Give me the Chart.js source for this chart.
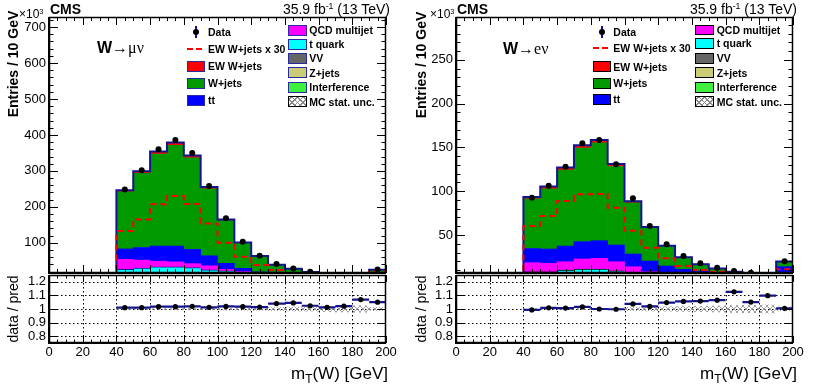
<!DOCTYPE html>
<html>
<head>
<meta charset="utf-8">
<title>CMS mT(W)</title>
<script src="https://cdn.jsdelivr.net/npm/chart.js@4.4.1/dist/chart.umd.min.js"></script>
<style>
  html, body { margin: 0; padding: 0; background: #fff; }
  body { position: relative; width: 814px; height: 391px; overflow: hidden;
         font-family: "Liberation Sans", Arial, Helvetica, sans-serif; color: #000; }
  canvas { position: absolute; }
  .t { position: absolute; white-space: nowrap; line-height: 1; }
  .cms { font-weight: bold; font-size: 14px; }
  .lumi { font-size: 14px; }
  .mult { font-size: 12px; }
  .chan { font-size: 16px; }
  .chan span { font-family: "Liberation Serif", "DejaVu Serif", serif; }
  .ytitle { font-size: 14px; font-weight: bold; transform: translate(-50%, -50%) rotate(-90deg); }
  .rtitle { font-size: 14px; transform: translate(-50%, -50%) rotate(-90deg); }
  .xtitle { font-size: 17px; }
  .sup { font-size: 0.62em; position: relative; top: -0.55em; }
  .sub { font-size: 0.7em; position: relative; top: 0.35em; }
  .leg { font-size: 10.5px; font-weight: bold; }
  .mk { position: absolute; box-sizing: border-box; }
</style>
</head>
<body>
<canvas id="mainMu" width="400" height="290" style="left:0px;top:0px"></canvas>
<canvas id="ratioMu" width="400" height="133" style="left:0px;top:258px"></canvas>
<canvas id="mainEl" width="400" height="290" style="left:407px;top:0px"></canvas>
<canvas id="ratioEl" width="400" height="133" style="left:407px;top:258px"></canvas>

<!-- left panel texts -->
<div class="t cms" style="left:50px;top:1.5px">CMS</div>
<div class="t lumi" style="right:424px;top:1.5px">35.9 fb<span class="sup">-1</span> (13 TeV)</div>
<div class="t mult" style="left:19px;top:8px">×10<span class="sup">3</span></div>
<div class="t chan" style="left:97px;top:39.7px"><b>W</b><span>→μν</span></div>
<div class="t ytitle" style="left:12.5px;top:64px">Entries / 10 GeV</div>
<div class="t rtitle" style="left:13px;top:308.5px">data / pred</div>
<div class="t xtitle" style="right:426px;top:364.5px">m<span class="sub">T</span>(W) [GeV]</div>

<!-- right panel texts -->
<div class="t cms" style="left:457px;top:1.5px">CMS</div>
<div class="t lumi" style="right:17px;top:1.5px">35.9 fb<span class="sup">-1</span> (13 TeV)</div>
<div class="t mult" style="left:430px;top:8px">×10<span class="sup">3</span></div>
<div class="t chan" style="left:503px;top:41px"><b>W</b><span>→eν</span></div>
<div class="t ytitle" style="left:421px;top:65px">Entries / 10 GeV</div>
<div class="t rtitle" style="left:421px;top:308.5px">data / pred</div>
<div class="t xtitle" style="right:17px;top:364.5px">m<span class="sub">T</span>(W) [GeV]</div>

<script>
// bins of m_T(W), 10 GeV wide, 40-200 GeV (last bin holds the overflow)
const binCenters = [45, 55, 65, 75, 85, 95, 105, 115, 125, 135, 145, 155, 165, 175, 185, 195];
const xTicks = [0, 20, 40, 60, 80, 100, 120, 140, 160, 180, 200];
const ratioTicks = [0.8, 0.9, 1.0, 1.1, 1.2];

// W -> mu nu, entries / 10 GeV in units of 10^3
const muYTicks = [100, 200, 300, 400, 500, 600, 700];
const muInterf = [0.5, 0.5, 0.5, 0.5, 0.5, 0.5, 0.5, 0.5, 0.5, 0.5, 0.5, 0.5, 0.5, 0.5, 0.5, 0.5];
const muZjets  = [5, 5, 5, 5, 4, 4, 3, 2, 1.5, 1, 0.8, 0.6, 0.5, 0.4, 0.3, 0.8];
const muVV     = [4, 4, 4, 4, 4, 3.5, 3, 2.5, 2, 1.5, 1.2, 1, 0.8, 0.6, 0.5, 1.5];
const muTop    = [16.5, 20.5, 23.5, 23.5, 22.5, 17, 15.5, 12, 8, 6, 4.5, 2.9, 2.2, 1.5, 1.7, 2.2];
const muQCD    = [28, 22, 16, 14, 11, 11, 4, 3, 2, 1, 1, 1, 1, 1, 0, 1];
const muTT     = [29, 35, 42, 44, 40, 28, 17, 9, 5, 4, 3, 2, 1, 1, 1, 2];
const muWjets  = [158.6, 206.5, 256.1, 280.3, 254.1, 185.9, 118.7, 70, 42.7, 24.2, 16.1, 10.5, 6.8, 4.9, 3.9, 16.1];
const muEW     = [4.4, 5.5, 6.9, 7.7, 6.9, 5.1, 3.3, 2, 1.3, 0.8, 0.5, 0.3, 0.2, 0.1, 0.1, 0.7];
const muEW30   = [132.5, 165, 207, 230, 208, 154, 100, 61, 38, 24, 14, 9, 6, 4, 3, 20];
const muData   = [248.5, 302, 360, 385.7, 350, 257.7, 168, 102.8, 63.8, 40.8, 28.8, 19.3, 13.2, 10.2, 8.6, 26];
const muRatio  = [1.01, 1.01, 1.017, 1.017, 1.02, 1.012, 1.019, 1.017, 1.014, 1.04, 1.045, 1.024, 1.012, 1.021, 1.069, 1.05];
const muUnc    = [0.003, 0.003, 0.003, 0.003, 0.004, 0.005, 0.008, 0.009, 0.01, 0.012, 0.014, 0.016, 0.02, 0.022, 0.024, 0.012];

// W -> e nu
const elYTicks = [50, 100, 150, 200, 250];
const elInterf = [0.2, 0.2, 0.2, 0.2, 0.2, 0.2, 0.2, 0.2, 0.2, 0.2, 0.2, 0.2, 0.2, 0.2, 0.2, 0.2];
const elZjets  = [2, 2, 2, 2, 2, 1.5, 1.2, 1, 0.8, 0.6, 0.5, 0.4, 0.3, 0.3, 0.3, 0.6];
const elVV     = [1.5, 1.5, 1.5, 1.5, 1.5, 1.3, 1.1, 0.9, 0.7, 0.6, 0.5, 0.4, 0.3, 0.3, 0.3, 0.6];
const elTop    = [4.4, 4.4, 6.3, 7.4, 7.4, 6.2, 4.8, 4.4, 3.3, 2.6, 2.3, 2, 1.7, 1.2, 1.2, 2.6];
const elQCD    = [10.3, 9.5, 9.5, 11.5, 12.3, 10.3, 6.5, 1.6, 1, 1, 0.5, 0.5, 0.5, 0.5, 0.5, 2];
const elTT     = [16.2, 16.4, 17.9, 19.8, 20.1, 19.1, 14.5, 12.2, 8.6, 5.8, 4.5, 3.1, 2.5, 2.5, 2, 7.8];
const elWjets  = [56.7, 68.9, 86.7, 106.8, 111.9, 89.7, 58.5, 37.7, 22.2, 13.3, 7.9, 4.9, 2.2, 1.4, 0.9, 5.6];
const elEW     = [2, 2.4, 3, 3.2, 3.2, 2.7, 1.8, 1.2, 0.8, 0.5, 0.3, 0.3, 0.2, 0.2, 0.1, 0.4];
const elEW30   = [60.3, 71.7, 88.9, 96.5, 96.9, 81.2, 54.9, 35.5, 23.4, 14.6, 10, 8, 6, 5, 4, 10.8];
const elData   = [92.6, 106.3, 128, 154.8, 158.6, 130.8, 91.9, 60.3, 39.4, 26, 17.7, 12.6, 8.9, 6.9, 6, 19.9];
const elRatio  = [0.993, 1.009, 1.007, 1.016, 1.0, 0.998, 1.037, 1.019, 1.047, 1.056, 1.058, 1.065, 1.126, 1.051, 1.098, 1.005];
const elUnc    = [0.004, 0.004, 0.004, 0.004, 0.005, 0.006, 0.012, 0.014, 0.016, 0.018, 0.02, 0.022, 0.026, 0.028, 0.03, 0.014];

// stack order, bottom to top
const stackLabels = ["Interference", "Z+jets", "VV", "t quark", "QCD multijet", "tt", "W+jets", "EW W+jets"];
const stackColors = ["#3cf03c", "#cccc77", "#666666", "#00ffff", "#ff00ff", "#0000ff", "#009a00", "#ff0000"];
const NAVY = "#14148f";

const legendCol1 = ["Data", "EW W+jets x 30", "EW W+jets", "W+jets", "tt"];
const legendMark1 = ["data", "dash", "#ff0000", "#009a00", "#0000ff"];
const legendCol2 = ["QCD multijet", "t quark", "VV", "Z+jets", "Interference", "MC stat. unc."];
const legendMark2 = ["#ff00ff", "#00ffff", "#666666", "#cccc77", "#3cf03c", "hatch"];

Chart.defaults.font.family = '"Liberation Sans", Arial, sans-serif';
Chart.defaults.color = "#000";

// ROOT-like frame: ticks on all four sides, optional dotted grid
const rootFrame = {
  id: "rootFrame",
  beforeDatasetsDraw(chart, args, o) {
    if (!o.grid) return;
    const { ctx, chartArea: a } = chart;
    const x = chart.scales.x, y = chart.scales.y;
    ctx.save();
    ctx.strokeStyle = "#000";
    ctx.lineWidth = 1;
    ctx.setLineDash([1.5, 2.5]);
    ctx.beginPath();
    o.xMajor.forEach((v) => {
      if (v <= x.min || v >= x.max) return;
      const px = Math.round(x.getPixelForValue(v)) + 0.5;
      ctx.moveTo(px, a.top); ctx.lineTo(px, a.bottom);
    });
    o.yMajor.forEach((v) => {
      const py = Math.round(y.getPixelForValue(v)) + 0.5;
      ctx.moveTo(a.left, py); ctx.lineTo(a.right, py);
    });
    ctx.stroke();
    ctx.restore();
  },
  afterDatasetsDraw(chart, args, o) {
    const { ctx, chartArea: a } = chart;
    const x = chart.scales.x, y = chart.scales.y;
    ctx.save();
    ctx.strokeStyle = "#000";
    ctx.lineWidth = 1;
    ctx.beginPath();
    const isMajor = (list, v) => list.some((m) => Math.abs(m - v) < 1e-6);
    for (let v = x.min; v <= x.max + 1e-6; v += o.xMinorStep) {
      const len = isMajor(o.xMajor, v) ? o.xMajorLen : o.xMinorLen;
      const px = Math.round(x.getPixelForValue(v)) + 0.5;
      ctx.moveTo(px, a.bottom); ctx.lineTo(px, a.bottom - len);
      ctx.moveTo(px, a.top); ctx.lineTo(px, a.top + len);
    }
    const ys = o.yMajor.slice();
    if (o.yMinorStep) {
      for (let v = Math.ceil(y.min / o.yMinorStep) * o.yMinorStep; v <= y.max; v += o.yMinorStep) ys.push(v);
    }
    ys.forEach((v) => {
      const len = isMajor(o.yMajor, v) ? o.yMajorLen : o.yMinorLen;
      const py = Math.round(y.getPixelForValue(v)) + 0.5;
      ctx.moveTo(a.left, py); ctx.lineTo(a.left + len, py);
      ctx.moveTo(a.right, py); ctx.lineTo(a.right - len, py);
    });
    ctx.stroke();
    ctx.lineWidth = 1.5;
    ctx.strokeRect(a.left + 0.5, a.top + 0.5, a.width - 1, a.height - 1);
    ctx.lineWidth = 2;
    ctx.beginPath();
    ctx.moveTo(a.left, a.top); ctx.lineTo(a.left, a.bottom); ctx.lineTo(a.right, a.bottom);
    ctx.stroke();
    ctx.restore();
  },
};
Chart.register(rootFrame);

function crossHatch(color) {
  const c = document.createElement("canvas");
  c.width = 6; c.height = 6;
  const g = c.getContext("2d");
  g.strokeStyle = color;
  g.lineWidth = 0.8;
  g.beginPath();
  g.moveTo(0, 0); g.lineTo(6, 6);
  g.moveTo(6, 0); g.lineTo(0, 6);
  g.stroke();
  return g.createPattern(c, "repeat");
}

const pts = (vals) => binCenters.map((x, i) => ({ x, y: vals[i] }));

// histogram outline on bin edges (stepped: "before"), kept inside the frame like ROOT
function histLine(vals, lo, from) {
  const first = binCenters[0] - 5;
  const out = [];
  if (from < first) out.push({ x: from, y: lo });
  out.push({ x: first, y: lo });
  vals.forEach((v, i) => out.push({ x: binCenters[i] - 5, y: Math.max(v, lo) }));
  out.push({ x: binCenters[binCenters.length - 1] + 5, y: Math.max(vals[vals.length - 1], lo) });
  return out;
}

function yAxis(min, max, ticks, width) {
  return {
    min, max,
    grid: { display: false, drawTicks: false },
    border: { display: false },
    afterFit: (s) => { s.width = width; },
    afterBuildTicks: (s) => { s.ticks = ticks.map((v) => ({ value: v })); },
    ticks: { autoSkip: false, padding: 3, font: { size: 13 }, color: "#000", callback: (v) => String(v) },
  };
}

function mainChart(id, layers, ew30, data, yMin, yMax, yTicks, yMinorStep, edge) {
  const total = binCenters.map((_, i) => layers.reduce((s, l) => s + l[i], 0));
  const datasets = layers.map((vals, k) => ({
    type: "bar",
    label: stackLabels[k],
    data: pts(vals),
    stack: "mc",
    order: 10,
    backgroundColor: stackColors[k],
    borderColor: edge,
    borderWidth: k === 3 ? { top: 1, left: 0, right: 0, bottom: 0 } : 0,
    grouped: false,
    barPercentage: 1,
    categoryPercentage: 1,
    inflateAmount: 0.3,
  }));
  datasets.push({
    type: "line", label: "total", data: histLine(total, yMin, 40), stepped: "before",
    borderColor: NAVY, borderWidth: 2, pointRadius: 0, fill: false, stack: "total", order: 5,
  });
  datasets.push({
    type: "line", label: "EW W+jets x 30", data: histLine(ew30, yMin, 0), stepped: "before",
    borderColor: "#ff0000", borderWidth: 2, borderDash: [6, 4], pointRadius: 0, fill: false, stack: "ew30", order: 4,
  });
  datasets.push({
    type: "line", label: "Data", data: pts(data).map((p) => (p.y < yMin ? { x: p.x, y: null } : p)),
    showLine: false, pointRadius: 3, pointBackgroundColor: "#000", pointBorderColor: "#000", pointBorderWidth: 0,
    stack: "data", order: 1,
  });

  const y = yAxis(yMin, yMax, yTicks, 49);
  y.stacked = true;
  return new Chart(document.getElementById(id), {
    type: "bar",
    data: { datasets },
    options: {
      responsive: false, animation: false, devicePixelRatio: 1,
      layout: { padding: { left: 0, top: 17, right: 14, bottom: 17 } },
      plugins: {
        legend: { display: false }, tooltip: { enabled: false },
        rootFrame: { grid: false, xMajor: xTicks, xMinorStep: 5, xMajorLen: 8, xMinorLen: 4,
                     yMajor: yTicks, yMinorStep, yMajorLen: 9, yMinorLen: 4.5 },
      },
      scales: {
        x: { type: "linear", min: 0, max: 200, offset: false, display: false },
        y,
      },
    },
  });
}

function ratioChart(id, ratio, unc, hatch) {
  const segs = [];
  binCenters.forEach((x, i) => {
    segs.push({ x: x - 5, y: ratio[i] }, { x: x + 5, y: ratio[i] }, { x: x + 5, y: null });
  });
  return new Chart(document.getElementById(id), {
    type: "bar",
    data: {
      datasets: [
        {
          type: "bar", label: "MC stat. unc.",
          data: binCenters.map((x, i) => ({ x, y: [1 - unc[i], 1 + unc[i]] })),
          backgroundColor: hatch, borderWidth: 0, grouped: false,
          barPercentage: 1, categoryPercentage: 1, order: 10,
        },
        {
          type: "line", label: "bin width", data: segs, borderColor: NAVY, borderWidth: 2.2,
          pointRadius: 0, spanGaps: false, fill: false, order: 5,
        },
        {
          type: "line", label: "data / pred", data: pts(ratio), showLine: false,
          pointRadius: 2.6, pointBackgroundColor: "#000", pointBorderWidth: 0, order: 1,
        },
      ],
    },
    options: {
      responsive: false, animation: false, devicePixelRatio: 1,
      layout: { padding: { left: 0, top: 17, right: 14, bottom: 28 } },
      plugins: {
        legend: { display: false }, tooltip: { enabled: false },
        rootFrame: { grid: true, xMajor: xTicks, xMinorStep: 5, xMajorLen: 7, xMinorLen: 3.5,
                     yMajor: ratioTicks, yMinorStep: 0, yMajorLen: 9, yMinorLen: 4 },
      },
      scales: {
        x: {
          type: "linear", min: 0, max: 200, offset: false,
          grid: { display: false, drawTicks: false },
          border: { display: false },
          afterFit: (s) => { s.height = 20; },
          afterBuildTicks: (s) => { s.ticks = xTicks.map((v) => ({ value: v })); },
          ticks: { autoSkip: false, maxRotation: 0, padding: 2, font: { size: 13 }, color: "#000" },
        },
        y: yAxis(0.75, 1.25, ratioTicks, 49),
      },
    },
  });
}

function addDiv(cls, style, text) {
  const d = document.createElement("div");
  d.className = cls;
  Object.assign(d.style, style);
  if (text != null) d.textContent = text;
  document.body.appendChild(d);
  return d;
}

function addEntry(boxLeft, boxW, boxH, textLeft, y, mark, label, edge) {
  if (mark === "data") {
    const cx = boxLeft + boxW / 2;
    addDiv("mk", { left: cx - 0.75 + "px", top: y - 6 + "px", width: "1.5px", height: "12px", background: NAVY });
    addDiv("mk", { left: cx - 3 + "px", top: y - 3 + "px", width: "6px", height: "6px", borderRadius: "50%", background: "#000" });
  } else if (mark === "dash") {
    addDiv("mk", { left: boxLeft + "px", top: y - 1 + "px", width: boxW + "px", height: "2px",
      background: "repeating-linear-gradient(90deg, #ff0000 0 6px, transparent 6px 9px)" });
  } else if (mark === "hatch") {
    addDiv("mk", { left: boxLeft + "px", top: y - boxH / 2 + "px", width: boxW + "px", height: boxH + "px",
      border: "1px solid #000",
      background: "repeating-linear-gradient(45deg, #888 0 1px, #fff 1px 4px), #fff" });
    addDiv("mk", { left: boxLeft + 1 + "px", top: y - boxH / 2 + 1 + "px", width: boxW - 2 + "px", height: boxH - 2 + "px",
      background: "repeating-linear-gradient(-45deg, #888 0 1px, transparent 1px 4px)" });
  } else {
    addDiv("mk", { left: boxLeft + "px", top: y - boxH / 2 + "px", width: boxW + "px", height: boxH + "px",
      background: mark, border: "1.5px solid " + edge });
  }
  addDiv("t leg", { left: textLeft + "px", top: y - 5.1 + "px" }, label);
}

function addLegend(g) {
  legendCol1.forEach((label, i) => addEntry(g.c1, 18, g.h, g.t1, g.rows1[i], legendMark1[i], label, g.edge));
  legendCol2.forEach((label, i) => addEntry(g.c2, 19, g.h, g.t2, g.rows2[i], legendMark2[i], label, g.edge));
}

const hatch = crossHatch("#858585");

mainChart("mainMu", [muInterf, muZjets, muVV, muTop, muQCD, muTT, muWjets, muEW], muEW30, muData,
  16, 728, muYTicks, 20, NAVY);
ratioChart("ratioMu", muRatio, muUnc, hatch);
mainChart("mainEl", [elInterf, elZjets, elVV, elTop, elQCD, elTT, elWjets, elEW], elEW30, elData,
  6.6, 299, elYTicks, 10, "#000");
ratioChart("ratioEl", elRatio, elUnc, hatch);

addLegend({ c1: 187, t1: 208, c2: 288, t2: 309.3, h: 11, edge: "#2a2aa0",
  rows1: [31.7, 49, 66.3, 83, 100.5], rows2: [30, 44, 58.3, 72.7, 87.5, 101.7] });
addLegend({ c1: 593, t1: 613.3, c2: 695, t2: 716.7, h: 10.5, edge: "#000",
  rows1: [31.7, 48.3, 66.7, 83.3, 99.3], rows2: [30, 43.3, 58.3, 72.7, 87.3, 101.7] });
</script>
</body>
</html>
